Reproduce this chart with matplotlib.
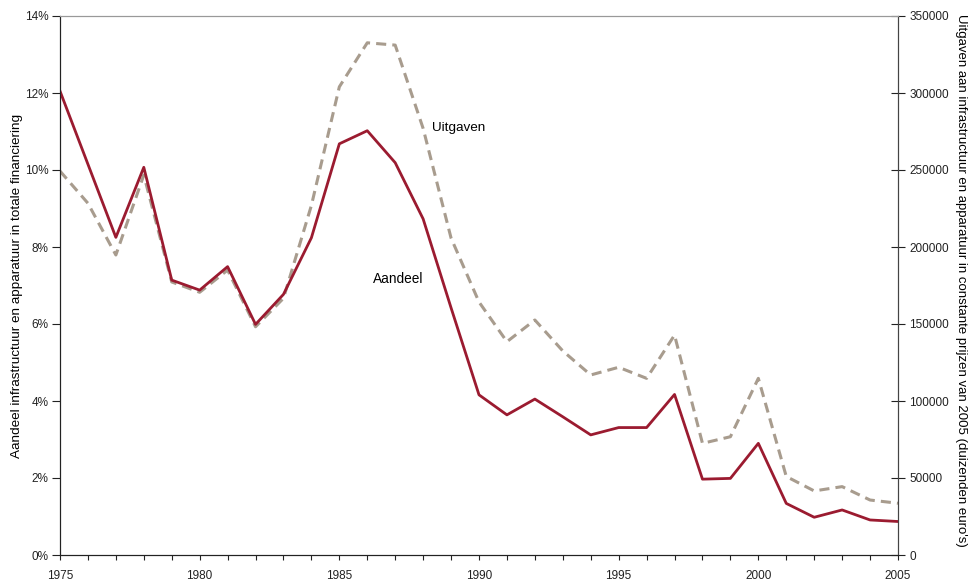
import matplotlib.pyplot as plt
from matplotlib.ticker import MultipleLocator, FuncFormatter

plt.rcParams['font.family'] = ['Liberation Sans', 'DejaVu Sans']
plt.rcParams['font.size'] = 8.5

years = list(range(1975, 2006))
# share of infrastructure & equipment in total financing (%)
aandeel = [12.05, 10.15, 8.25, 10.07, 7.14, 6.88, 7.49, 5.99, 6.77, 8.24,
           10.68, 11.02, 10.19, 8.73, 6.42, 4.16, 3.64, 4.05, 3.59, 3.12,
           3.31, 3.31, 4.17, 1.97, 1.99, 2.90, 1.34, 0.98, 1.17, 0.91, 0.87]
# spending, constant 2005 prices (thousands of euros)
uitgaven = [249300, 228400, 194800, 246700, 177300, 170600, 185000, 148200, 166700, 227000,
            304000, 332600, 331100, 277000, 205800, 164300, 138500, 152600, 132500, 116900,
            121900, 114700, 142800, 72500, 76800, 114700, 51000, 41600, 44400, 35700, 33600]

red = '#9b1b30'
taupe = '#a89c8e'

fig = plt.figure(figsize=(9.73, 5.83), dpi=100)
ax = fig.add_axes([60/973, 1 - 555/583, 838/973, 539/583])
ax2 = ax.twinx()

ax2.plot(years, uitgaven, color=taupe, lw=2.2, dashes=(3.3, 2.0), solid_capstyle='butt')
ax.plot(years, aandeel, color=red, lw=2.0)
ax.set_zorder(ax2.get_zorder() + 1)
ax.patch.set_visible(False)

ax.set_xlim(1975, 2005)
ax.set_ylim(0, 14)
ax2.set_ylim(0, 350000)

ax.xaxis.set_major_locator(MultipleLocator(5))
ax.xaxis.set_minor_locator(MultipleLocator(1))
ax.yaxis.set_major_locator(MultipleLocator(2))
ax.yaxis.set_major_formatter(FuncFormatter(lambda v, p: f'{v:.0f}%'))
ax2.yaxis.set_major_locator(MultipleLocator(50000))
ax2.yaxis.set_major_formatter(FuncFormatter(lambda v, p: f'{v:.0f}'))

ax.tick_params(axis='x', which='both', direction='out', length=3.5, width=0.8, pad=7, colors='#222222')
ax.tick_params(axis='y', direction='out', length=6, width=0.8, pad=2.5, colors='#222222')
ax2.tick_params(axis='y', direction='inout', length=9.5, width=0.8, pad=3.5, colors='#222222')

for a in (ax, ax2):
    a.spines['top'].set_color('#999999')
    a.spines['top'].set_linewidth(0.8)
    a.spines['left'].set_color('#222222')
    a.spines['bottom'].set_color('#222222')
    a.spines['right'].set_color('#444444')

ax.set_ylabel('Aandeel infrastructuur en apparatuur in totale financiering',
              fontsize=9.7, va='center')
ax.yaxis.set_label_coords(-0.0513, 0.5)
ax2.set_ylabel("Uitgaven aan infrastructuur en apparatuur in constante prijzen van 2005 (duizenden euro's)",
               fontsize=9.5, rotation=270, va='center')
ax2.yaxis.set_label_coords(1.0752, 0.51)

ax.text(1988.3, 11.08, 'Uitgaven', fontsize=9.7, ha='left', va='center')
ax.text(1986.2, 7.17, 'Aandeel', fontsize=9.8, ha='left', va='center')

fig.savefig('out.png', dpi=100)
